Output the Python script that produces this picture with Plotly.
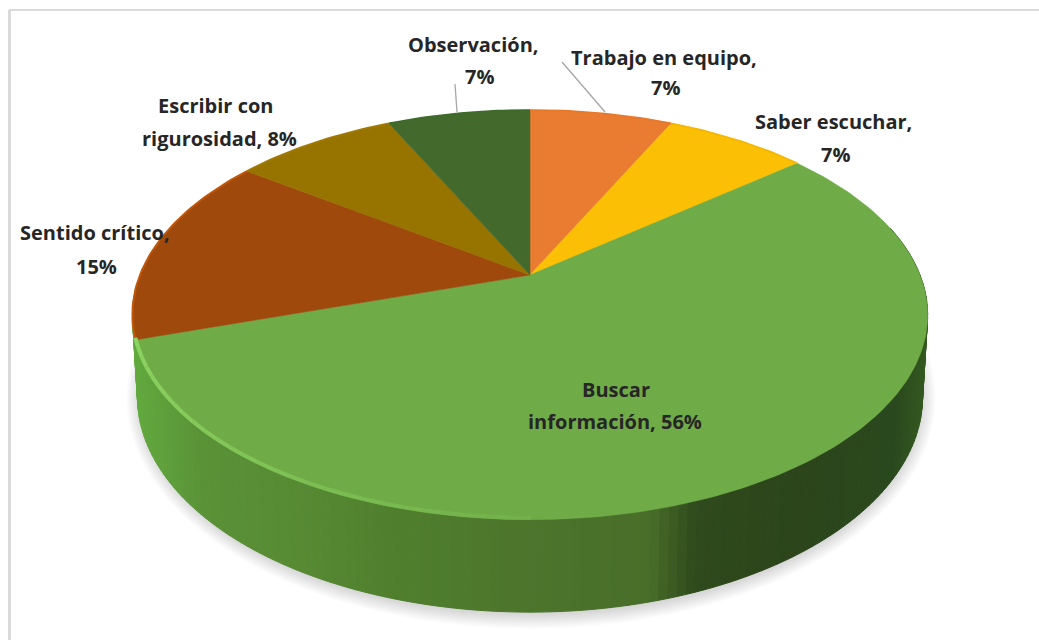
import math
import plotly.graph_objects as go

# ---- data ----
categories = ["Trabajo en equipo", "Saber escuchar", "Buscar información",
              "Sentido crítico", "Escribir con rigurosidad", "Observación"]
values = [7, 7, 56, 15, 8, 7]

# ---- style ----
top_colors = ["#E97C30", "#FBBF05", "#6FAB47", "#A0490D", "#977300", "#436A2C"]
wall_colors = ["#B85F20", "#C09000", None, "#62AA3E", "#7A5C00", "#2F4A1C"]
rim_colors = ["#E8782A", "#F5B800", "#6FAB47", "#C2570A", "#A07A00", "#3E6A2A"]
label_first = ["Trabajo en equipo,", "Saber escuchar,", "Buscar", "Sentido crítico,",
               "Escribir con", "Observación,"]
label_second = ["7%", "7%", "información, 56%", "15%", "rigurosidad, 8%", "7%"]
first_xy = [(664, 57), (833, 121), (616, 389), (95, 232), (215, 105), (473, 44)]
second_xy = [(665, 87), (835, 154), (615, 421), (96, 266), (219, 138), (479, 76)]
FONT = dict(family="Open Sans", size=20, color="#262626")

# perspective disc model
K = 0.195
TOP = dict(cx=530, y0=275, a=390, b=197)
BOT = dict(cx=530, y0=355, a=385, b=207)
WALL_STOPS = [(130, "#62AA3E"), (200, "#5A9238"), (300, "#578A33"), (400, "#4F7F2D"),
              (520, "#4D752C"), (650, "#486E29"), (695, "#2F4A1C"), (800, "#2C451B"),
              (895, "#2A481D"), (930, "#355A20")]


def project(disc, ang):
    s, c = math.sin(ang), math.cos(ang)
    d = 1 + K * c
    return disc["cx"] + disc["a"] * s / d, disc["y0"] - disc["b"] * c / d


def arc(disc, a0, a1, step=math.radians(1)):
    n = max(2, int(abs(a1 - a0) / step) + 1)
    pts = [project(disc, a0 + (a1 - a0) * i / n) for i in range(n + 1)]
    return [p[0] for p in pts], [p[1] for p in pts]


def hex2rgb(h):
    return tuple(int(h[i:i + 2], 16) for i in (1, 3, 5))


def lerp(c0, c1, t):
    a, b = hex2rgb(c0), hex2rgb(c1)
    return "#%02X%02X%02X" % tuple(round(a[i] + (b[i] - a[i]) * t) for i in range(3))


def wall_color(x):
    if x <= WALL_STOPS[0][0]:
        return WALL_STOPS[0][1]
    for (x0, c0), (x1, c1) in zip(WALL_STOPS, WALL_STOPS[1:]):
        if x <= x1:
            return lerp(c0, c1, (x - x0) / (x1 - x0))
    return WALL_STOPS[-1][1]


fig = go.Figure()


def poly(xs, ys, color, line=None, width=0):
    fig.add_trace(go.Scatter(
        x=xs, y=ys, mode="lines", fill="toself", fillcolor=color,
        line=dict(color=line or color, width=width), hoverinfo="skip", showlegend=False))


# soft shadow
for i in range(12):
    xs, ys = [], []
    for j in range(181):
        t = math.radians(j * 2)
        xs.append(531 + (388 + i * 1.5) * math.cos(t))
        ys.append(398 + (214 + i * 1.5) * math.sin(t))
    poly(xs, ys, "rgba(95,95,115,0.028)")

total = sum(values)
edges = [0]
for v in values:
    edges.append(edges[-1] + v / total * 2 * math.pi)

# side wall
for i in range(len(values)):
    a0, a1 = edges[i], edges[i + 1]
    n = max(1, int((a1 - a0) / math.radians(1.2)))
    for j in range(n):
        t0 = a0 + (a1 - a0) * j / n
        t1 = a0 + (a1 - a0) * (j + 1) / n
        if math.cos((t0 + t1) / 2) > 0.25:
            continue
        x0, y0 = arc(TOP, t0, t1, math.radians(0.5))
        x1, y1 = arc(BOT, t1, t0, math.radians(0.5))
        mx = (x0[0] + x0[-1]) / 2
        col = wall_colors[i] or wall_color(mx)
        poly(x0 + x1 + [x0[0]], y0 + y1 + [y0[0]], col, col, 1)

# top faces
for i in range(len(values)):
    xs, ys = arc(TOP, edges[i], edges[i + 1])
    ax, ay = TOP["cx"], TOP["y0"]
    poly([ax] + xs + [ax], [ay] + ys + [ay], top_colors[i], top_colors[i], 0.5)

# coloured outer rim on the back half and the light rim along the front
for i in range(len(values)):
    if i == 2:
        continue
    xs, ys = arc(TOP, edges[i], edges[i + 1])
    fig.add_trace(go.Scatter(x=xs, y=ys, mode="lines",
                             line=dict(color=rim_colors[i], width=2),
                             hoverinfo="skip", showlegend=False))
a_end = edges[3]
segs = 28
for j in range(segs):
    t0 = a_end - (a_end - math.pi) * j / segs
    t1 = a_end - (a_end - math.pi) * (j + 1) / segs
    xs, ys = arc(TOP, t0, t1, math.radians(0.5))
    col = lerp("#8CD462", "#72B04A", j / segs)
    fig.add_trace(go.Scatter(x=xs, y=[y - 2 for y in ys], mode="lines",
                             line=dict(color=col, width=4),
                             hoverinfo="skip", showlegend=False))

# leader lines
for a, b in [((455, 84), (457, 112)), ((562, 62), (605, 112))]:
    fig.add_shape(type="line", x0=a[0], y0=a[1], x1=b[0], y1=b[1],
                  line=dict(color="#A6A6A6", width=1.3))

# frame: only the top and left strokes are in view
fig.add_shape(type="line", x0=9, y0=10, x1=1039, y1=10, line=dict(color="#DADADA", width=2))
fig.add_shape(type="line", x0=9.5, y0=10, x1=9.5, y1=640, line=dict(color="#DADADA", width=3))

for texts, pos in ((label_first, first_xy), (label_second, second_xy)):
    for text, (x, y) in zip(texts, pos):
        fig.add_annotation(x=x, y=y, text="<b>%s</b>" % text, showarrow=False,
                           font=FONT, xanchor="center", yanchor="middle")

fig.update_layout(
    width=1039, height=640, margin=dict(l=0, r=0, t=0, b=0),
    paper_bgcolor="white", plot_bgcolor="white", showlegend=False,
    xaxis=dict(range=[0, 1039], visible=False, fixedrange=True),
    yaxis=dict(range=[640, 0], visible=False, fixedrange=True),
)
fig.write_html("out.html", config=dict(displayModeBar=False),
               post_script="document.body.style.margin='0';document.documentElement.style.overflow='hidden';")
